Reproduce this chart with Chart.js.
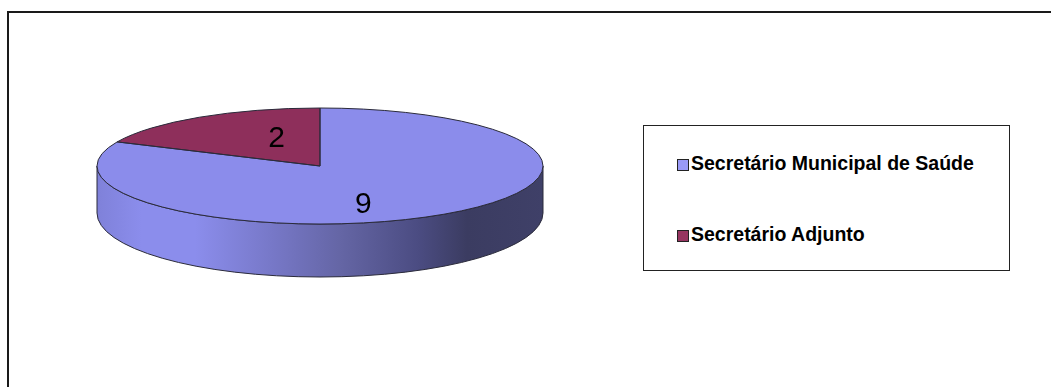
<!DOCTYPE html>
<html>
<head>
<meta charset="utf-8">
<script src="https://cdn.jsdelivr.net/npm/chart.js@4/dist/chart.umd.min.js"></script>
<style>
    body {
        margin: 0;
        width: 1051px;
        height: 387px;
        overflow: hidden;
        position: relative;
        background: #fff;
        font-family: "Liberation Sans", Arial, sans-serif;
    }
    #frame {
        position: absolute;
        left: 7px;
        top: 11px;
        width: 1100px;
        height: 420px;
        border: 2px solid #1a1a1a;
    }
    #chart-wrap {
        position: absolute;
        left: 0;
        top: 0;
        width: 1051px;
        height: 387px;
    }
    #legend {
        position: absolute;
        left: 643px;
        top: 125px;
        width: 367px;
        height: 146px;
        border: 1px solid #222;
        box-sizing: border-box;
        padding-top: 28px;
        background: #fff;
    }
    .legend-item {
        display: flex;
        align-items: flex-start;
        height: 19px;
        margin: 0 0 52px 33px;
        font-size: 19.5px;
        line-height: 19px;
        font-weight: bold;
        color: #000;
        white-space: nowrap;
    }
    .legend-box {
        width: 10px;
        height: 10px;
        margin: 5px 2px 0 0;
        border: 1.5px solid #222;
    }
</style>
</head>
<body>
<div id="frame"></div>
<div id="chart-wrap"><canvas id="pie"></canvas></div>
<div id="legend"></div>
<script>
// Chart data.
const LABELS = ['Secretário Municipal de Saúde', 'Secretário Adjunto'];
const VALUES = [9, 2];

// Colours of the top faces, the legend keys and the side walls.
const TOP_COLORS = ['#8b8ceb', '#8e2f5b'];
const LEGEND_COLORS = ['#9a9af7', '#963560'];
const SIDE_STOPS = [
    [[0, '#7f81d9'], [0.1, '#8b8dec'], [0.22, '#8b8dec'], [0.4, '#7677c6'],
     [0.55, '#6465a4'], [0.72, '#4b4c82'], [0.83, '#3b3c61'], [1, '#3f4068']],
    [[0, '#6e2447'], [0.5, '#5a1d3a'], [1, '#3a1326']],
];
const EDGE_COLOR = '#2a2a3a';

/// Vertical squash of the pie (ellipse height / width).
const TILT = 58 / 223;
/// Thickness of the pie in pixels.
const DEPTH = 47;
/// Extra height of the bottom ellipse, a little perspective.
const BOTTOM_GROW = 6;

// Build the legend from the data.
const legend = document.getElementById('legend');
LABELS.forEach((label, i) => {
    const item = document.createElement('div');
    item.className = 'legend-item';
    const box = document.createElement('span');
    box.className = 'legend-box';
    box.style.background = LEGEND_COLORS[i];
    item.appendChild(box);
    item.appendChild(document.createTextNode(label));
    legend.appendChild(item);
});

// Parts of an arc [s, e] that lie on the front half (canvas angles 0..PI).
function front_parts(s, e) {
    let parts = [];
    for (let k = -1; k <= 2; ++k) {
        let a0 = Math.max(s, 2 * Math.PI * k);
        let a1 = Math.min(e, 2 * Math.PI * k + Math.PI);
        if (a1 > a0)
            parts.push([a0, a1]);
    }
    return parts;
}

function side_gradient(ctx, cx, rx, stops) {
    let g = ctx.createLinearGradient(cx - rx, 0, cx + rx, 0);
    stops.forEach(([at, col]) => g.addColorStop(at, col));
    return g;
}

// Turns the flat pie into a tilted disc with a side wall.
const pie3d = {
    id: 'pie3d',
    beforeDatasetsDraw(chart) {
        const ctx = chart.ctx;
        const arcs = chart.getDatasetMeta(0).data;
        const cx = arcs[0].x, cy = arcs[0].y, rx = arcs[0].outerRadius;
        const ry = rx * TILT;

        arcs.forEach((arc, i) => {
            front_parts(arc.startAngle, arc.endAngle).forEach(([a0, a1]) => {
                ctx.save();
                ctx.beginPath();
                ctx.ellipse(cx, cy, rx, ry, 0, a0, a1, false);
                ctx.ellipse(cx, cy + DEPTH, rx, ry + BOTTOM_GROW, 0, a1, a0, true);
                ctx.closePath();
                ctx.fillStyle = side_gradient(ctx, cx, rx, SIDE_STOPS[i]);
                ctx.fill();
                ctx.lineWidth = 1;
                ctx.strokeStyle = EDGE_COLOR;
                ctx.stroke();
                ctx.restore();
            });
        });

        ctx.save();
        ctx.translate(cx, cy);
        ctx.scale(1, TILT);
        ctx.translate(-cx, -cy);
    },
    afterDatasetsDraw(chart) {
        const ctx = chart.ctx;
        ctx.restore();

        const arcs = chart.getDatasetMeta(0).data;
        const cx = arcs[0].x, cy = arcs[0].y, rx = arcs[0].outerRadius;
        const ry = rx * TILT;

        // Outlines of the top faces.
        ctx.save();
        ctx.lineWidth = 1;
        ctx.strokeStyle = EDGE_COLOR;
        arcs.forEach(arc => {
            ctx.beginPath();
            ctx.moveTo(cx, cy);
            ctx.ellipse(cx, cy, rx, ry, 0, arc.startAngle, arc.endAngle, false);
            ctx.closePath();
            ctx.stroke();
        });

        // Value labels.
        const size = 30;
        ctx.font = `${size}px "Liberation Sans", Arial, sans-serif`;
        ctx.fillStyle = '#000';
        ctx.textAlign = 'center';
        ctx.textBaseline = 'alphabetic';
        const values = chart.data.datasets[0].data;
        arcs.forEach((arc, i) => {
            const mid = (arc.startAngle + arc.endAngle) / 2;
            const x = cx + rx * 0.36 * Math.cos(mid);
            const y = cy + ry * 0.68 * Math.sin(mid) + 3.5;
            ctx.fillText(String(values[i]), x, y + size * 0.358);
        });
        ctx.restore();
    },
};

new Chart(document.getElementById('pie'), {
    type: 'pie',
    data: {
        labels: LABELS,
        datasets: [{
            data: VALUES,
            backgroundColor: TOP_COLORS,
            borderWidth: 0,
            hoverOffset: 0,
            radius: 223,
        }],
    },
    options: {
        responsive: true,
        maintainAspectRatio: false,
        animation: false,
        events: [],
        layout: {
            padding: { left: 0, right: 411, top: 0, bottom: 55 },
        },
        plugins: {
            legend: { display: false },
            tooltip: { enabled: false },
        },
    },
    plugins: [pie3d],
});
</script>
</body>
</html>
